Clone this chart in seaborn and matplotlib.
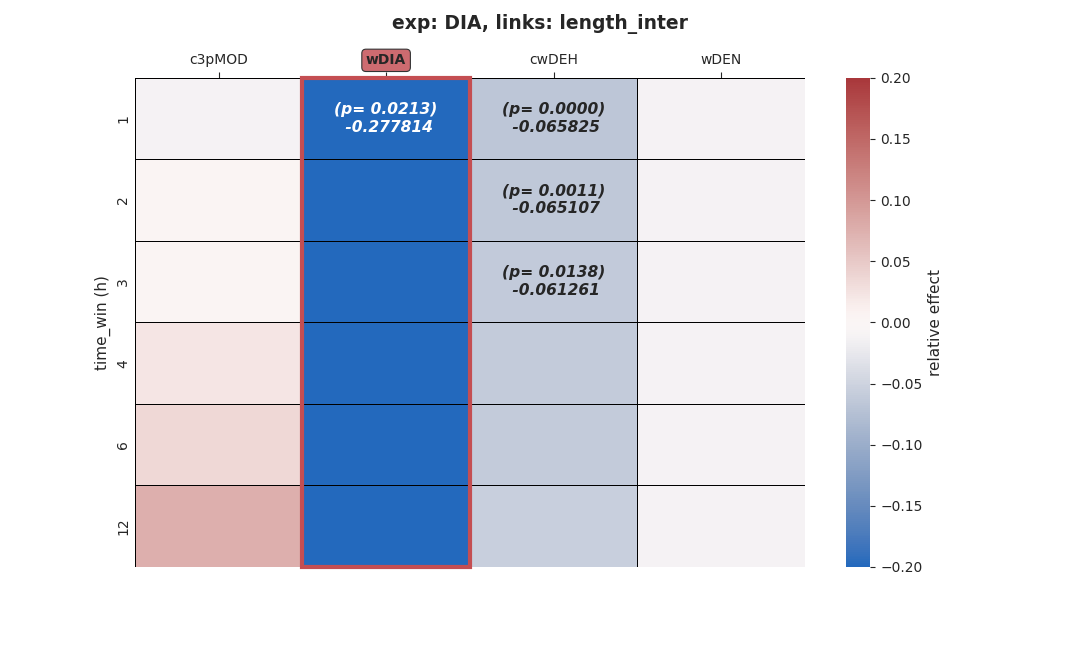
"""Heatmap of relative link effects per time window."""
import matplotlib
matplotlib.use("Agg")
import matplotlib.pyplot as plt
import matplotlib.patches as mpatches
import pandas as pd
import seaborn as sns

sns.set_style("ticks")
plt.rcParams["font.family"] = ["DejaVu Sans"]

time_win = ["1", "2", "3", "4", "6", "12"]
columns = ["c3pMOD", "wDIA", "cwDEH", "wDEN"]

c3pmod = [-0.012, 0.004, 0.004, 0.022, 0.035, 0.075]
wdia = [-0.277814, -0.26, -0.26, -0.26, -0.26, -0.26]
cwdeh = [-0.065825, -0.065107, -0.061261, -0.060, -0.060, -0.056]
wden = [-0.012, -0.012, -0.012, -0.012, -0.012, -0.012]

# p-values shown only for significant cells (None = not annotated)
p_wdia = [0.0213, None, None, None, None, None]
p_cwdeh = [0.0000, 0.0011, 0.0138, None, None, None]

highlight = "wDIA"

df = pd.DataFrame({"c3pMOD": c3pmod, "wDIA": wdia, "cwDEH": cwdeh, "wDEN": wden},
                  index=time_win)
pvals = pd.DataFrame({"c3pMOD": [None] * 6, "wDIA": p_wdia, "cwDEH": p_cwdeh,
                      "wDEN": [None] * 6}, index=time_win)

fig = plt.figure(figsize=(10.8, 6.48), dpi=100)
ax = fig.add_axes([0.125, 0.125, 0.62, 0.755])
cax = fig.add_axes([0.783, 0.125, 0.023, 0.755])

sns.heatmap(df, ax=ax, cbar_ax=cax, cmap="vlag", vmin=-0.2, vmax=0.2,
            linewidths=0.6, linecolor="black",
            cbar_kws={"label": "relative effect"})

ax.xaxis.tick_top()
ax.tick_params(axis="x", length=4, labelsize=10)
ax.tick_params(axis="y", length=0, labelsize=10)
ax.set_yticklabels(time_win, rotation=90, va="center")
ax.set_ylabel("time_win (h)", fontsize=11)
ax.set_xlabel("")

cax.tick_params(labelsize=10)
cax.yaxis.label.set_size(11)

# annotations for significant cells
for i, row in enumerate(time_win):
    for j, col in enumerate(columns):
        p = pvals.loc[row, col]
        if p is None or pd.isna(p):
            continue
        val = df.loc[row, col]
        color = "white" if abs(val) > 0.12 else "#262626"
        ax.text(j + 0.5, i + 0.5, f"(p= {p:.4f})\n {val:.6f}", ha="center", va="center",
                fontsize=11.2, fontweight="bold", fontstyle="italic", color=color)

# highlight the experiment column
hj = columns.index(highlight)
ax.add_patch(mpatches.Rectangle((hj, 0), 1, len(time_win), fill=False,
                                edgecolor="#c44e52", linewidth=3, clip_on=False, zorder=5))
for lab in ax.get_xticklabels():
    if lab.get_text() == highlight:
        lab.set_fontweight("bold")
        lab.set_bbox(dict(boxstyle="round,pad=0.3", facecolor="#cd6b70",
                          edgecolor="#333333", linewidth=0.8))

fig.suptitle("exp: DIA, links: length_inter", fontsize=13.5, fontweight="bold", y=0.978)

fig.savefig("out.png", dpi=100)
